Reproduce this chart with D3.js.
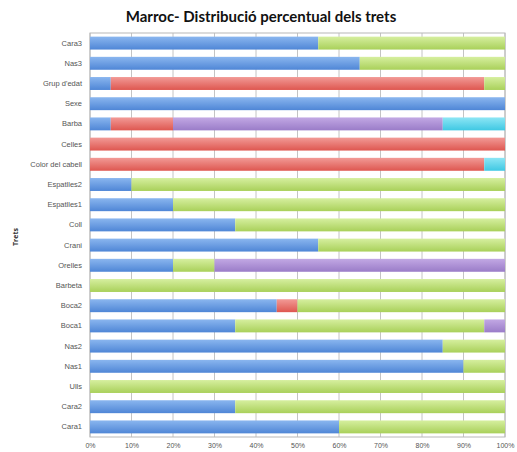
<!DOCTYPE html>
<html><head><meta charset="utf-8">
<script src="https://cdn.jsdelivr.net/npm/d3@7"></script>
<style>body{margin:0;background:#fff;}svg{display:block;font-family:"Open Sans","DejaVu Sans",sans-serif;}</style>
</head><body><svg id="c" width="517" height="452"></svg>
<script>
const categories = ["Cara3","Nas3","Grup d'edat","Sexe","Barba","Celles","Color del cabell","Espatlles2","Espatlles1","Coll","Crani","Orelles","Barbeta","Boca2","Boca1","Nas2","Nas1","Ulls","Cara2","Cara1"];
const series1 = [55,65,5,100,5,0,0,10,20,35,55,20,0,45,35,85,90,0,35,60];
const series2 = [0,0,90,0,15,100,95,0,0,0,0,0,0,5,0,0,0,0,0,0];
const series3 = [45,35,5,0,0,0,0,90,80,65,45,10,100,50,60,15,10,100,65,40];
const series4 = [0,0,0,0,65,0,0,0,0,0,0,70,0,0,5,0,0,0,0,0];
const series5 = [0,0,0,0,15,0,5,0,0,0,0,0,0,0,0,0,0,0,0,0];
const xTicks = [0,0.1,0.2,0.3,0.4,0.5,0.6,0.7,0.8,0.9,1];
const title = "Marroc- Distribució percentual dels trets";
const yTitle = "Trets";

const seriesKeys = ["s1","s2","s3","s4","s5"];
const colors = {s1:["#8ab6ef","#4f86d6"], s2:["#f29a96","#de5750"], s3:["#d6ef9f","#a9d05a"], s4:["#c2a8e4","#9a7cc8"], s5:["#8de6f5","#3fc8e3"]};
const rows = categories.map((c,i)=>({cat:c,s1:series1[i],s2:series2[i],s3:series3[i],s4:series4[i],s5:series5[i]}));

const svg = d3.select("#c");
const m = {l:90,r:12,t:33,b:15};
const W = 517, H = 452;
const x = d3.scaleLinear().domain([0,1]).range([m.l, W-m.r]);
const y = d3.scaleBand().domain(categories).range([m.t, H-m.b]).paddingInner(0.36).paddingOuter(0.18);

const defs = svg.append("defs");
seriesKeys.forEach(k=>{
  const g = defs.append("linearGradient").attr("id","g"+k).attr("x1",0).attr("y1",0).attr("x2",0).attr("y2",1);
  g.append("stop").attr("offset","0%").attr("stop-color",colors[k][0]);
  g.append("stop").attr("offset","100%").attr("stop-color",colors[k][1]);
});

svg.append("text").attr("x",261).attr("y",22).attr("text-anchor","middle")
  .attr("font-family","Lato, 'Open Sans', sans-serif")
  .attr("font-size",15).attr("font-weight","bold").attr("fill","#111").text(title);

// gridlines
svg.append("g").selectAll("line").data(xTicks).join("line")
  .attr("x1",d=>x(d)).attr("x2",d=>x(d)).attr("y1",m.t).attr("y2",H-m.b)
  .attr("stroke","#c4c4c4").attr("stroke-width",1);
// plot border
svg.append("rect").attr("x",m.l).attr("y",m.t).attr("width",x(1)-x(0)).attr("height",H-m.b-m.t)
  .attr("fill","none").attr("stroke","#b8b8b8");

const stack = d3.stack().keys(seriesKeys);
const stacked = stack(rows);
svg.append("g").selectAll("g").data(stacked).join("g")
  .attr("fill",d=>"url(#g"+d.key+")")
  .selectAll("rect").data(d=>d).join("rect")
  .attr("x",d=>x(d[0]/100)).attr("width",d=>x(d[1]/100)-x(d[0]/100))
  .attr("y",d=>y(d.data.cat)).attr("height",y.bandwidth());

const xAxis = svg.append("g").attr("transform",`translate(0,${H-m.b})`)
  .call(d3.axisBottom(x).tickValues(xTicks).tickFormat(d3.format(".0%")).tickSize(0).tickPadding(6));
xAxis.select(".domain").remove();
xAxis.selectAll("text").attr("font-size",7).attr("fill","#555");

const yAxis = svg.append("g").attr("transform",`translate(${m.l},0)`)
  .call(d3.axisLeft(y).tickSize(0).tickPadding(8));
yAxis.select(".domain").remove();
yAxis.selectAll("text").attr("font-size",7.5).attr("fill","#555");

svg.append("text").attr("transform","translate(18,237) rotate(-90)").attr("text-anchor","middle")
  .attr("font-size",7).attr("font-weight","bold").attr("fill","#333").text(yTitle);
</script></body></html>
